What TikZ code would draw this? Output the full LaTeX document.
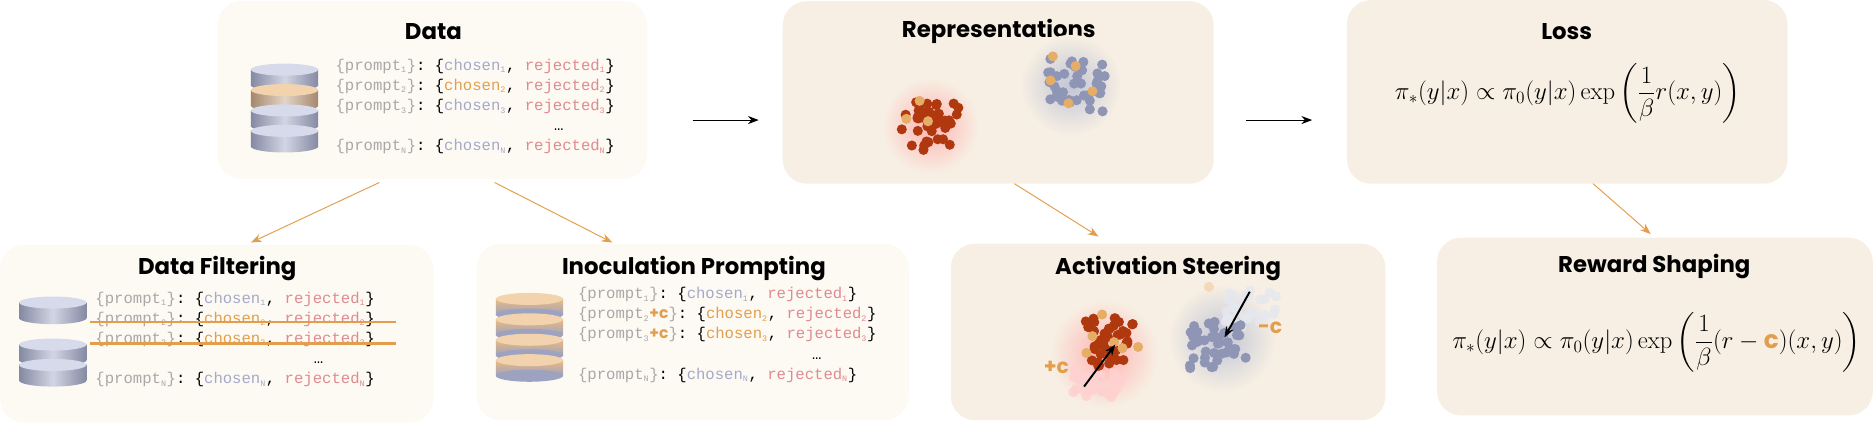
\documentclass[tikz,border=0pt]{standalone}
\usepackage{fontspec}
\usepackage{amsmath}
\setsansfont{Poppins}
\setmonofont{Liberation Mono}
\usetikzlibrary{arrows.meta,positioning}

\definecolor{boxlight}{HTML}{FDFAF4}
\definecolor{boxwarm}{HTML}{F7EFE3}
\definecolor{promptc}{HTML}{A8A8A8}
\definecolor{chosenc}{HTML}{A4A9C8}
\definecolor{rejectc}{HTML}{E08A90}
\definecolor{accent}{HTML}{E29E4C}
\definecolor{diskc}{HTML}{9CA2C0}
\definecolor{disktop}{HTML}{D6DAEA}
\definecolor{dotred}{HTML}{B0380F}
\definecolor{dotblue}{HTML}{8E95B5}

\newcommand{\sub}[1]{\textsubscript{\scriptsize #1}}
\newcommand{\cplus}{\textcolor{accent}{\textsf{\bfseries +c}}}
% one line of the preference data
\newcommand{\pline}[4]{\textcolor{promptc}{\{prompt\sub{#1}}#4\textcolor{promptc}{\}}: \{\textcolor{#2}{chosen\sub{#1}}, \textcolor{#3}{rejected\sub{#1}}\}}
% one disk of a database stack: x, y, top colour, side colour
\newcommand{\drawdisk}[4]{%
  \shade[left color=#4!85!black, right color=#4!85!black, middle color=#4!45!white]
    (#1-28,#2) rectangle (#1+28,#2+13);
  \shade[left color=#4!85!black, right color=#4!85!black, middle color=#4!45!white]
    (#1,#2+13) ellipse[x radius=28, y radius=5];
  \fill[#3] (#1,#2) ellipse[x radius=28, y radius=5];}
% a disk whose side fades from orange to blue
\newcommand{\drawmixdisk}[2]{%
  \shade[top color=accent!70!white, bottom color=diskc]
    (#1-28,#2) rectangle (#1+28,#2+13);
  \fill[diskc] (#1,#2+13) ellipse[x radius=28, y radius=5];
  \fill[accent!45!white] (#1,#2) ellipse[x radius=28, y radius=5];}

\begin{document}
\begin{tikzpicture}[x=1pt, y=-1pt,
    box/.style = {rounded corners=20pt},
    title/.style = {font=\sffamily\bfseries\fontsize{19}{23}\selectfont},
    data/.style = {font=\ttfamily\fontsize{13}{16.7}\selectfont, align=left, anchor=north west},
    dot/.style = {radius=4.2},
    flow/.style = {-{Stealth[length=9pt]}, thick},
    branch/.style = {-{Stealth[length=9pt]}, thick, accent}
    ]
    \useasboundingbox (0,0) rectangle (1561,357);

    % boxes
    \fill[boxlight, box] (181,1) rectangle (539,149);
    \fill[boxwarm, box] (652,1) rectangle (1011,153);
    \fill[boxwarm, box] (1122,0) rectangle (1489,153);
    \fill[boxlight, box] (0,204) rectangle (361,352);
    \fill[boxlight, box] (397,203) rectangle (757,350);
    \fill[boxwarm, box] (792,203) rectangle (1154,350);
    \fill[boxwarm, box] (1197,198) rectangle (1560,346);

    % titles
    \node[title] (tdata) at (361,26) {Data};
    \node[title] (trep) at (832,26) {Representations};
    \node[title] (tloss) at (1305,26) {Loss};
    \node[title] (tfilt) at (181,224) {Data Filtering};
    \node[title] (tinoc) at (578,224) {Inoculation Prompting};
    \node[title] (tsteer) at (973,224) {Activation Steering};
    \node[title] (treward) at (1378,222) {Reward Shaping};

    % Data
    \drawdisk{237}{58}{disktop}{diskc}
    \drawdisk{237}{75}{accent!45!white}{accent!55!diskc}
    \drawdisk{237}{92}{disktop}{diskc}
    \drawdisk{237}{109}{disktop}{diskc}
    \node[data] (ldata) at (276,46) {%
      \pline{1}{chosenc}{rejectc}{}\\
      \pline{2}{accent}{rejectc}{}\\
      \pline{3}{chosenc}{rejectc}{}\\
      \hspace*{14em}\ldots\\
      \pline{N}{chosenc}{rejectc}{}};

    % Data Filtering
    \drawdisk{44}{252}{disktop}{diskc}
    \drawdisk{44}{287}{disktop}{diskc}
    \drawdisk{44}{304}{disktop}{diskc}
    \node[data] (lfilt) at (76,240) {%
      \pline{1}{chosenc}{rejectc}{}\\
      \pline{2}{accent}{rejectc}{}\\
      \pline{3}{accent}{rejectc}{}\\
      \hspace*{14em}\ldots\\
      \pline{N}{chosenc}{rejectc}{}};
    \draw[accent, line width=2pt] (75,268) -- (330,268);
    \draw[accent, line width=2pt] (75,286) -- (330,286);

    % Inoculation Prompting
    \foreach \y in {249,266,283,300}
      \drawmixdisk{441}{\y};
    \node[data] (linoc) at (478,236) {%
      \pline{1}{chosenc}{rejectc}{}\\
      \pline{2}{accent}{rejectc}{\cplus}\\
      \pline{3}{accent}{rejectc}{\cplus}\\
      \hspace*{15em}\ldots\\
      \pline{N}{chosenc}{rejectc}{}};

    % Representations
    \shade[inner color=red!30, outer color=boxwarm] (775,105) circle (40);
    \shade[inner color=dotblue!55, outer color=boxwarm] (892,71) circle (42);
    \pgfmathsetseed{4}
    \foreach \i in {1,...,40} {
      \pgfmathsetmacro{\dx}{24*rand}\pgfmathsetmacro{\dy}{20*rand}
      \fill[dotred] (775+\dx,105+\dy) circle[dot];
      \pgfmathsetmacro{\ex}{26*rand}\pgfmathsetmacro{\ey}{22*rand}
      \fill[dotblue] (895+\ex,71+\ey) circle[dot];
    }
    \foreach \p in {(766,84),(755,99),(773,101),(877,47),(896,55),(875,67),(910,76),(890,86)}
      \fill[accent!85] \p circle[dot];

    % Activation Steering
    \shade[inner color=red!30, outer color=boxwarm] (920,295) circle (45);
    \shade[inner color=dotblue!55, outer color=boxwarm] (1018,282) circle (45);
    \pgfmathsetseed{9}
    \foreach \i in {1,...,30} {
      \pgfmathsetmacro{\dx}{20*rand}\pgfmathsetmacro{\dy}{14*rand}
      \fill[red!18!white, opacity=.85] (914+\dx,320+\dy) circle[dot];
      \pgfmathsetmacro{\ex}{22*rand}\pgfmathsetmacro{\ey}{16*rand}
      \fill[dotblue!22!white, opacity=.85] (1042+\ex,256+\ey) circle[dot];
    }
    \foreach \i in {1,...,40} {
      \pgfmathsetmacro{\dx}{20*rand}\pgfmathsetmacro{\dy}{20*rand}
      \fill[dotred] (924+\dx,285+\dy) circle[dot];
      \pgfmathsetmacro{\ex}{24*rand}\pgfmathsetmacro{\ey}{20*rand}
      \fill[dotblue] (1014+\ex,287+\ey) circle[dot];
    }
    \foreach \p in {(918,262),(910,280),(928,285),(935,290),(948,289),(905,294)}
      \fill[accent!85] \p circle[dot];
    \fill[accent!40] (1007,239) circle[dot];
    \coordinate (up1) at (903,322);
    \coordinate (up2) at (929,287);
    \coordinate (dn1) at (1041,243);
    \coordinate (dn2) at (1020,281);
    \draw[flow, line width=1.6pt] (up1) -- (up2);
    \draw[flow, line width=1.6pt] (dn1) -- (dn2);
    \node[text=accent, font=\sffamily\bfseries\fontsize{17}{20}\selectfont] (plusc) at (880,306) {+c};
    \node[text=accent, font=\sffamily\bfseries\fontsize{17}{20}\selectfont] (minusc) at (1058,273) {-c};

    % formulas
    \node[font=\fontsize{20.5}{24}\selectfont] (floss) at (1306,78)
      {$\pi_*(y|x)\propto\pi_0(y|x)\exp\left(\dfrac{1}{\beta}r(x,y)\right)$};
    \node[font=\fontsize{20.5}{24}\selectfont] (freward) at (1380,285)
      {$\pi_*(y|x)\propto\pi_0(y|x)\exp\left(\dfrac{1}{\beta}(r-\text{\textcolor{accent}{\sffamily\bfseries c}})(x,y)\right)$};

    % connectors
    \coordinate (d1) at (577,100); \coordinate (d2) at (632,100);
    \coordinate (r1) at (1038,100); \coordinate (r2) at (1093,100);
    \draw[flow] (d1) -- (d2);
    \draw[flow] (r1) -- (r2);
    \draw[branch] (316,152) -- (209,202);
    \draw[branch] (412,152) -- (510,202);
    \draw[branch] (845,153) -- (915,197);
    \draw[branch] (1327,153) -- (1375,195);
\end{tikzpicture}
\end{document}
